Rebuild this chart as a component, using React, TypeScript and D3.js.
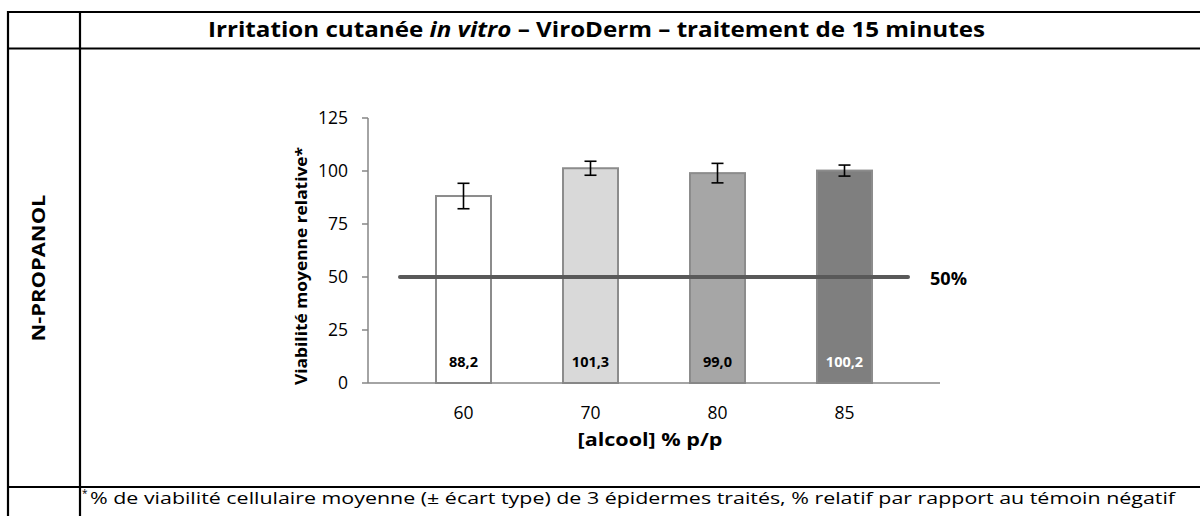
import React from "react";
import * as d3 from "d3";

const categories = ["60", "70", "80", "85"];
const values = [88.2, 101.3, 99.0, 100.2];
const errors = [6.0, 3.3, 4.6, 2.6];
const valueLabels = ["88,2", "101,3", "99,0", "100,2"];
const barColors = ["#ffffff", "#d9d9d9", "#a6a6a6", "#7f7f7f"];
const labelColors = ["#000000", "#000000", "#000000", "#ffffff"];
const yTicks = [0, 25, 50, 75, 100, 125];
const threshold = 50;

const FONT = "'Open Sans', Lato, sans-serif";

export default function App() {
  const x = d3
    .scaleBand<string>()
    .domain(categories)
    .range([400, 908])
    .paddingInner(0.567)
    .paddingOuter(0.2835);
  const y = d3.scaleLinear().domain([0, 125]).range([383, 118]);
  const bw = x.bandwidth();
  const axisColor = "#868686";

  return (
    <svg
      width={1200}
      height={516}
      style={{ position: "absolute", left: 0, top: 0, background: "#fff" }}
      fontFamily={FONT}
    >
      {/* table lines */}
      <g stroke="#000" strokeWidth={2.2}>
        <line x1={8} y1={12} x2={1200} y2={12} />
        <line x1={8} y1={48.5} x2={1200} y2={48.5} />
        <line x1={8} y1={487} x2={1200} y2={487} />
        <line x1={8} y1={11} x2={8} y2={516} />
        <line x1={80} y1={11} x2={80} y2={516} />
      </g>
      <text
        x={208}
        y={37}
        fontSize={20.5}
        fontWeight="bold"
        textLength={777}
        lengthAdjust="spacingAndGlyphs"
      >
        Irritation cutanée <tspan fontStyle="italic">in vitro</tspan> – ViroDerm – traitement de 15 minutes
      </text>
      <text
        transform="translate(45,268) rotate(-90)"
        textAnchor="middle"
        fontSize={18}
        fontWeight="bold"
        textLength={147}
        lengthAdjust="spacingAndGlyphs"
      >
        N-PROPANOL
      </text>

      {/* bars */}
      {categories.map((c, i) => (
        <rect
          key={c}
          x={x(c)!}
          y={y(values[i])}
          width={bw}
          height={y(0) - y(values[i])}
          fill={barColors[i]}
          stroke="#8c8c8c"
          strokeWidth={2}
        />
      ))}

      {/* axes */}
      <line x1={368} y1={y(0)} x2={368} y2={y(125)} stroke={axisColor} strokeWidth={1.5} />
      <line x1={368} y1={y(0)} x2={940} y2={y(0)} stroke={axisColor} strokeWidth={1.5} />
      {yTicks.map((t) => (
        <g key={t}>
          <line x1={362} x2={368} y1={y(t)} y2={y(t)} stroke={axisColor} strokeWidth={1.5} />
          <text x={348} y={y(t) + 6} textAnchor="end" fontSize={17.5} fill="#000">
            {t}
          </text>
        </g>
      ))}
      {categories.map((c) => (
        <text key={c} x={x(c)! + bw / 2} y={419} textAnchor="middle" fontSize={17.5}>
          {c}
        </text>
      ))}
      <text
        x={650}
        y={446}
        textAnchor="middle"
        fontSize={17.5}
        fontWeight="bold"
        textLength={145}
        lengthAdjust="spacingAndGlyphs"
      >
        [alcool] % p/p
      </text>
      <text
        transform="translate(307,266) rotate(-90)"
        textAnchor="middle"
        fontSize={16.5}
        fontWeight="bold"
        textLength={238}
        lengthAdjust="spacingAndGlyphs"
      >
        Viabilité moyenne relative*
      </text>

      {/* threshold line */}
      <line
        x1={x.range()[0]}
        x2={x.range()[1]}
        y1={y(threshold)}
        y2={y(threshold)}
        stroke="#595959"
        strokeWidth={4}
        strokeLinecap="round"
      />
      <text x={930} y={285} fontSize={17.5} fontWeight="bold" textLength={37} lengthAdjust="spacingAndGlyphs">
        50%
      </text>

      {/* error bars */}
      {categories.map((c, i) => {
        const cx = x(c)! + bw / 2;
        const top = y(values[i] + errors[i]);
        const bot = y(values[i] - errors[i]);
        return (
          <g key={c} stroke="#000" strokeWidth={1.6}>
            <line x1={cx} x2={cx} y1={top} y2={bot} />
            <line x1={cx - 6} x2={cx + 6} y1={top} y2={top} />
            <line x1={cx - 6} x2={cx + 6} y1={bot} y2={bot} />
          </g>
        );
      })}

      {/* value labels */}
      {categories.map((c, i) => (
        <text
          key={c}
          x={x(c)! + bw / 2}
          y={367}
          textAnchor="middle"
          fontSize={14.5}
          fontWeight="bold"
          fill={labelColors[i]}
        >
          {valueLabels[i]}
        </text>
      ))}

      {/* footnote */}
      <text x={82} y={497} fontSize={10}>
        *
      </text>
      <text x={90} y={504} fontSize={17} textLength={1085} lengthAdjust="spacingAndGlyphs">
        % de viabilité cellulaire moyenne (± écart type) de 3 épidermes traités, % relatif par rapport au témoin négatif
      </text>
    </svg>
  );
}
